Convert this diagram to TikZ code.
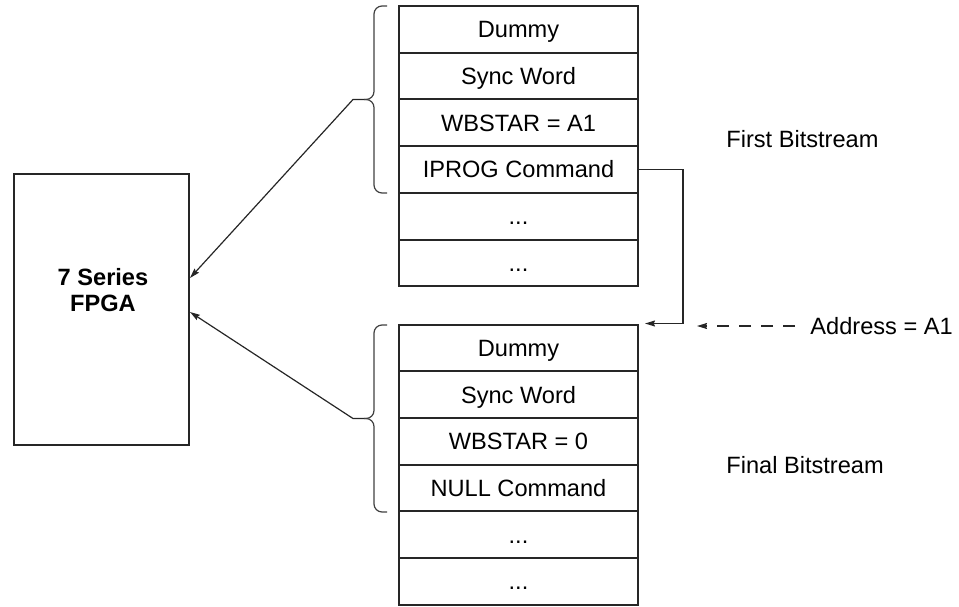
\documentclass[tikz,border=0pt]{standalone}
\usepackage{fontspec}
\setsansfont{Liberation Sans}
\usetikzlibrary{arrows.meta,calc}

\begin{document}
\begin{tikzpicture}[
  x=0.5pt, y=-0.5pt,
  font=\fontsize{11.8}{13}\selectfont\sffamily,
  cell/.style={draw=black!85, line width=1pt, minimum width=119.5pt, minimum height=23.35pt,
               inner sep=0pt, text height=8.45pt, text depth=0pt},
  chip/.style={draw=black!85, line width=1pt, minimum width=87.5pt, minimum height=135.5pt},
  brc/.style={draw=black!75, line width=0.6pt, rounded corners=4pt},
  conn/.style={draw=black!85, line width=0.6pt, -{Stealth[length=5pt,width=3pt,inset=0.6pt]}},
  tag/.style={anchor=west, inner sep=0pt}
]
\useasboundingbox (0,0) rectangle (959,606);
% FPGA
\node[chip] (fpga) at (101.5,309.5) {};
\node[align=center, font=\fontsize{11.8}{13}\selectfont\sffamily\bfseries] (fpgalbl) at (103,290) {7 Series\\FPGA};
% first bitstream
\node[cell] (a1) at (518.5,29.35) {Dummy};
\node[cell] (a2) at (518.5,76.05) {Sync Word};
\node[cell] (a3) at (518.5,122.75) {WBSTAR = A1};
\node[cell] (a4) at (518.5,169.45) {IPROG Command};
\node[cell] (a5) at (518.5,216.15) {...};
\node[cell] (a6) at (518.5,262.85) {...};
% final bitstream
\node[cell] (b1) at (518.5,347.85) {Dummy};
\node[cell] (b2) at (518.5,394.55) {Sync Word};
\node[cell] (b3) at (518.5,441.25) {WBSTAR = 0};
\node[cell] (b4) at (518.5,487.95) {NULL Command};
\node[cell] (b5) at (518.5,534.65) {...};
\node[cell] (b6) at (518.5,581.35) {...};
% labels
\node[tag] (first) at (726,139) {First Bitstream};
\node[tag] (final) at (726,465) {Final Bitstream};
\node[tag, inner xsep=7.5pt] (addr) at (795,326) {Address = A1};
% braces
\coordinate (tipA) at (364,99.5);
\coordinate (tipB) at (364,418.5);
\draw[brc] (387,6) -- (374,6) -- (374,99.5) -- (tipA);
\draw[brc] (tipA) -- (374,99.5) -- (374,193) -- (387,193);
\draw[brc] (387,325) -- (374,325) -- (374,418.5) -- (tipB);
\draw[brc] (tipB) -- (374,418.5) -- (374,512) -- (387,512);
% connectors
\draw[conn] (tipA) -- ++(-11,0) -- ($(fpga.east)+(0,-31.5)$);
\draw[conn] (tipB) -- ++(-11,0) -- ($(fpga.east)+(0,2.5)$);
\draw[conn] (a4.east) -- ++(44,0) |- ([xshift=3pt]b1.north east);
\coordinate (addrtip) at (697,326);
\draw[conn, dash pattern=on 6pt off 5pt] (addr.west) -- (addrtip);
\end{tikzpicture}
\end{document}
